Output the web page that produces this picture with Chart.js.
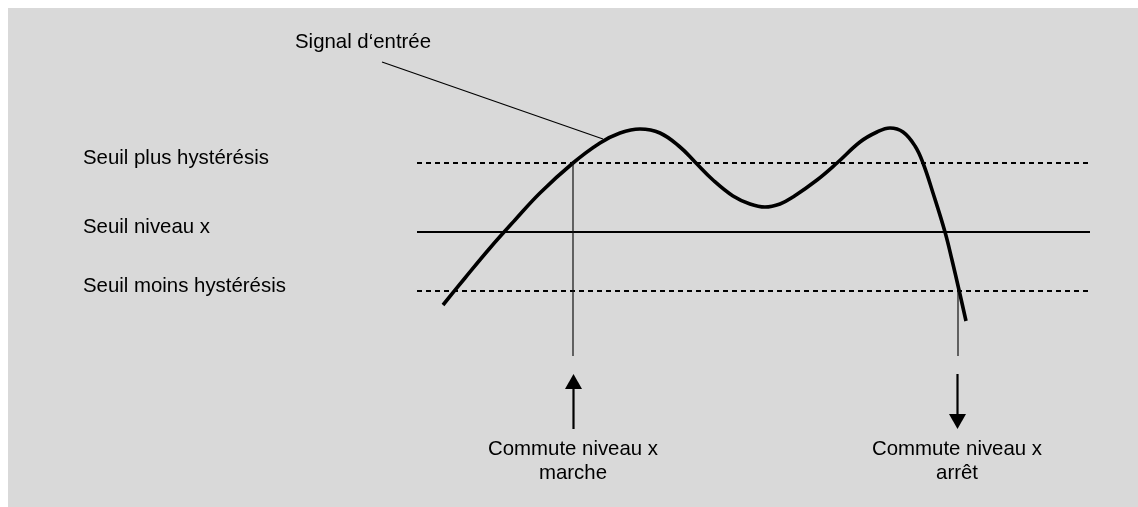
<!DOCTYPE html>
<html>
<head>
<meta charset="utf-8">
<script src="https://cdn.jsdelivr.net/npm/chart.js@4"></script>
<style>
  html, body { margin: 0; padding: 0; background: #fff; overflow: hidden; }
  #bg { position: absolute; left: 8px; top: 8px; right: 0; bottom: 0; background: #d9d9d9; }
  #c { position: absolute; left: 0; top: 0; }
</style>
</head>
<body>
<div id="bg"></div>
<canvas id="c" width="1138" height="507"></canvas>
<script>
// input signal (time units / level units)
const timeX = [44.3, 46.5, 49.0, 51.5, 54.0, 57.3, 60.0, 62.0, 64.0, 66.0, 68.0, 69.5, 71.3, 73.3, 75.0, 76.5,
  78.0, 79.3, 81.7, 83.7, 86.0, 87.7, 89.0, 90.3, 91.5, 92.3, 93.3, 94.5, 95.2, 95.9, 96.6];
const signalY = [-7.3, -4.6, -1.6, 1.2, 3.9, 6.9, 8.9, 9.9, 10.3, 9.9, 8.5, 7.0, 5.2, 3.6, 2.8, 2.5,
  2.8, 3.5, 5.2, 6.9, 9.0, 10.0, 10.4, 10.0, 8.6, 6.9, 3.9, 0, -2.8, -5.8, -8.9];

const seuil = 0;
const seuilPlus = 6.9;
const seuilMoins = -5.9;
const lineFrom = 41.7;
const lineTo = 109.0;

const levelLabels = ['Seuil plus hystérésis', 'Seuil niveau x', 'Seuil moins hystérésis'];
const levelValues = [seuilPlus, seuil, seuilMoins];

// switching instants
const onX = 57.3;
const offX = 95.8;
const dropTo = -12.4;
const arrowTop = -14.2;
const arrowBottom = -19.7;
const switchLabels = [['Commute niveau x', 'marche'], ['Commute niveau x', 'arrêt']];

const signalLabel = 'Signal d‘entrée';
const leaderFrom = { x: 38.2, y: 17.0 };
const leaderTo = { x: 60.3, y: 9.3 };

const FONT = '20.4px "Liberation Sans", Arial, sans-serif';

const pts = (xs, ys) => xs.map((x, i) => ({ x, y: ys[i] }));
const hline = (y, dash, w) => ({
  data: [{ x: lineFrom, y }, { x: lineTo, y }],
  borderColor: '#000', borderWidth: w, borderDash: dash, pointRadius: 0, borderCapStyle: 'butt',
});
const seg = (a, b, color, w) => ({
  data: [a, b], borderColor: color, borderWidth: w, pointRadius: 0, borderCapStyle: 'butt',
});

const extras = {
  id: 'extras',
  afterDatasetsDraw(chart) {
    const { ctx, scales: { x, y } } = chart;
    ctx.save();
    ctx.fillStyle = '#000';
    ctx.strokeStyle = '#000';
    ctx.font = FONT;

    // level labels
    ctx.textAlign = 'left';
    ctx.textBaseline = 'alphabetic';
    levelLabels.forEach((t, i) => ctx.fillText(t, x.getPixelForValue(8.3), y.getPixelForValue(levelValues[i]) + 0.5));
    ctx.fillText(signalLabel, x.getPixelForValue(29.5), y.getPixelForValue(18.4));

    // arrows
    const arrow = (xv, from, to) => {
      const px = Math.round(x.getPixelForValue(xv)) + 0.5;
      const y0 = y.getPixelForValue(from), y1 = y.getPixelForValue(to);
      const dir = Math.sign(y1 - y0);
      ctx.lineWidth = 2.2;
      ctx.beginPath();
      ctx.moveTo(px, y0);
      ctx.lineTo(px, y1 - dir * 12);
      ctx.stroke();
      ctx.beginPath();
      ctx.moveTo(px, y1);
      ctx.lineTo(px - 8.5, y1 - dir * 15);
      ctx.lineTo(px + 8.5, y1 - dir * 15);
      ctx.closePath();
      ctx.fill();
    };
    arrow(onX, arrowBottom, arrowTop);
    arrow(offX - 0.1, arrowTop, arrowBottom);

    // switch labels
    ctx.textAlign = 'center';
    [onX, offX - 0.1].forEach((xv, i) => {
      const px = x.getPixelForValue(xv);
      ctx.fillText(switchLabels[i][0], px, y.getPixelForValue(-22.3));
      ctx.fillText(switchLabels[i][1], px, y.getPixelForValue(-24.7));
    });
    ctx.restore();
  },
};

new Chart(document.getElementById('c'), {
  type: 'line',
  data: {
    datasets: [
      seg(leaderFrom, leaderTo, '#000', 1.2),
      seg({ x: onX, y: seuilPlus }, { x: onX, y: dropTo }, '#111', 1.2),
      seg({ x: offX, y: seuilMoins }, { x: offX, y: dropTo }, '#111', 1.2),
      hline(seuilPlus, [5, 4], 2.2),
      hline(seuil, [], 2.2),
      hline(seuilMoins, [5, 4], 2.2),
      {
        data: pts(timeX, signalY),
        borderColor: '#000', borderWidth: 3.6, pointRadius: 0,
        tension: 0.4, borderCapStyle: 'butt', borderJoinStyle: 'round',
      },
    ],
  },
  options: {
    responsive: false,
    animation: false,
    devicePixelRatio: 1,
    layout: { padding: 0 },
    plugins: { legend: { display: false }, tooltip: { enabled: false } },
    scales: {
      x: { type: 'linear', min: 0, max: 113.8, display: false },
      y: { min: -27.5, max: 23.2, display: false },
    },
  },
  plugins: [extras],
});
</script>
</body>
</html>
